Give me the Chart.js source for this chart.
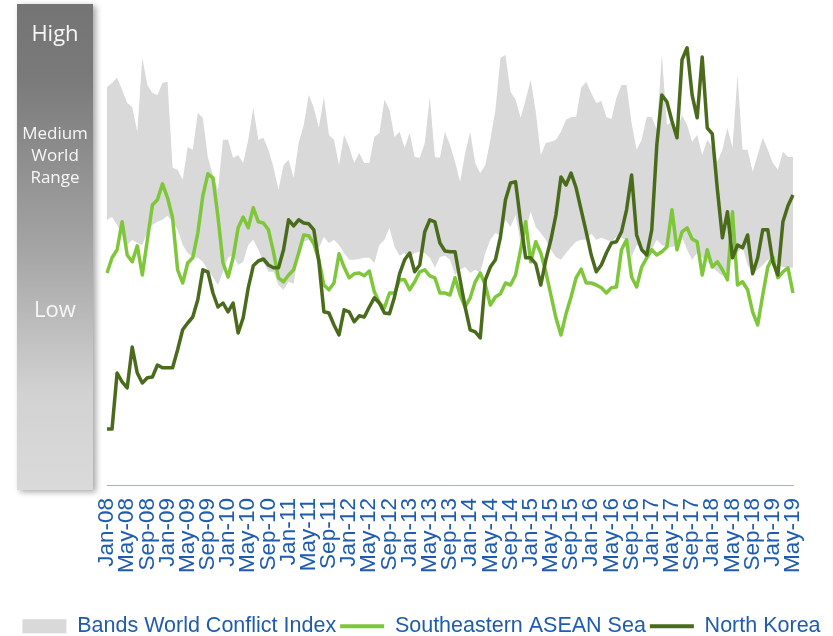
<!DOCTYPE html>
<html>
<head>
<meta charset="utf-8">
<title>World Conflict Index</title>
<script src="https://cdn.jsdelivr.net/npm/chart.js@4.4.1/dist/chart.umd.min.js"></script>
<style>
  html, body { margin: 0; padding: 0; background: #fff; }
  #wrap { width: 833px; height: 636px; }
</style>
</head>
<body>
<div id="wrap"><canvas id="conflict-chart" width="833" height="636"></canvas></div>
<script>
const MONTH_NAMES = ['Jan', 'Feb', 'Mar', 'Apr', 'May', 'Jun', 'Jul', 'Aug', 'Sep', 'Oct', 'Nov', 'Dec'];
const FIRST_YEAR = 8;      // 2008
const MONTH_COUNT = 137;   // Jan-08 .. May-19
const LABEL_EVERY = 4;

const SIDE_LABELS = ['High', 'Medium', 'World', 'Range', 'Low'];

// upper and lower edge of the grey world range band
const BAND_HIGH = [
  99.5, 100.5, 101.8, 98.8, 95.5, 94.5, 88.3, 106.8, 100, 98,
  97.5, 100.5, 100.8, 79.3, 78.8, 76.3, 84.5, 83.8, 93, 91.8,
  81.8, 77.5, 73.8, 86.3, 86.3, 81.8, 82.5, 80.5, 86.3, 94.3,
  86.3, 86.8, 83.8, 79.5, 73.8, 80, 81.3, 76.8, 85.5, 90,
  97.5, 94.3, 89.3, 97, 87.5, 86.3, 80, 87.5, 84.5, 80.5,
  83, 80.5, 80.5, 87, 88, 96.3, 93.8, 87, 88.3, 84.3,
  88, 82, 81.8, 85.5, 97, 82, 81.8, 88.3, 85, 80.8,
  75.8, 83, 88.3, 80.5, 78, 80, 86.3, 93.8, 106.8, 107.5,
  98.3, 96.3, 91.8, 96.3, 101.3, 93.3, 82.5, 85.5, 85.8, 86.3,
  88.3, 91.3, 92, 92, 99.3, 100.8, 98, 95.5, 96, 92,
  91.5, 96.8, 100, 100, 90.5, 83.8, 86.3, 92, 92, 88.8,
  107.5, 90, 90.8, 88.8, 92.5, 90, 85.8, 87.5, 82.5, 86.3,
  84.5, 80.8, 83.8, 89.3, 84.3, 102.5, 83.8, 83.8, 78.3, 82.5,
  86.8, 83.8, 80.5, 78.8, 83.3, 82, 82
];
const BAND_LOW = [
  66.3, 67, 65, 62.5, 60, 61.3, 60.5, 60, 63.3, 65,
  65.8, 66.3, 67.3, 65.8, 63.8, 60, 58, 57, 56.8, 55.8,
  53.8, 52, 50, 53.3, 56.8, 57.5, 55, 55.8, 60, 61.3,
  58.8, 55.8, 53.3, 53.3, 50, 48.8, 50.8, 50.3, 58.8, 60.8,
  61.3, 61.3, 59.3, 62, 60.5, 61.3, 60, 58, 56.3, 56.3,
  56.5, 56.8, 56.8, 55.5, 60, 61.3, 64.3, 59.5, 57.3, 58,
  56.8, 58, 58.3, 58, 56.8, 54.3, 57, 57.3, 56.3, 52.5,
  53.8, 54.5, 53, 53.8, 53, 58, 61.3, 63, 62.3, 66.3,
  64.5, 67.5, 60.5, 63.8, 68.3, 64.5, 63, 61.3, 58.8, 57,
  56.3, 58, 59.5, 60.8, 61.3, 61.3, 62.8, 61.3, 61.8, 61.3,
  60.8, 62, 61.8, 61.3, 57, 60, 59.3, 55.8, 58.8, 61.3,
  60, 59.3, 59.5, 60, 62, 58.8, 56.3, 58, 56.8, 55.8,
  54.5, 53.3, 52.3, 53.8, 57, 58, 59.5, 55, 53, 53.8,
  55, 56.3, 57, 55, 54.5, 54.5, 54.3
];
const ASEAN_SEA = [
  53, 56.8, 58.8, 65.8, 57.5, 55.8, 59.8, 52.5, 61.3, 70,
  71.3, 75.3, 71.8, 66.8, 53.8, 50.5, 55.5, 56.8, 63, 72.3,
  77.8, 76.8, 67, 55.5, 52, 56.8, 64.3, 67, 64.3, 69.3,
  65.8, 65.5, 63.8, 58.3, 51.8, 50.8, 52.5, 53.8, 58, 62.5,
  62.3, 60.3, 56.3, 50, 48.8, 50.5, 57.8, 54.5, 51.8, 52.8,
  53, 52.3, 53.5, 48.3, 45.5, 44.3, 48, 48, 51.3, 51.3,
  48.8, 50.8, 53.3, 53.8, 52.3, 51.8, 48, 48, 47.5, 51.8,
  47.5, 44.5, 46.8, 50.8, 53, 50, 45, 47, 47.8, 50.5,
  50, 52.5, 58.8, 65.8, 55.8, 60.8, 58, 53.3, 47.5, 41.8,
  37.5, 42.8, 47, 51.8, 54, 50.5, 50.5, 50, 49.3, 48,
  49.3, 49.5, 58.8, 61.3, 52, 49.5, 54.5, 56.8, 58.8, 57.5,
  58.3, 59.5, 68.8, 58.8, 63.3, 64.3, 61.5, 60.8, 52.5, 58.8,
  54.5, 55.8, 53.8, 51.3, 68.3, 50, 50.8, 48.8, 43.3, 40,
  47.5, 54.5, 57, 51.8, 53.3, 54.3, 48
];
const NORTH_KOREA = [
  14, 14, 28, 25.8, 24.3, 34.5, 28, 25.5, 26.8, 27,
  30, 29.3, 29.3, 29.3, 33.8, 38.8, 40.5, 42, 46.3, 53.8,
  53.3, 48, 44.5, 45.5, 43.3, 45.5, 38, 41.8, 49.3, 54.8,
  56, 56.5, 55, 54.3, 54.3, 58.8, 66.3, 64.8, 66.3, 65.5,
  65.3, 63.8, 55.8, 43.3, 43, 40, 37.5, 43.8, 43.3, 40.8,
  42.3, 42, 44.5, 46.8, 45.5, 43, 42.8, 47, 52.8, 56.3,
  58, 53.3, 55, 63.3, 66.3, 65.8, 60.5, 58.5, 58.3, 58.3,
  51.3, 44.5, 38.8, 38.3, 36.8, 51.3, 54.5, 56.3, 62, 71.3,
  75.5, 75.8, 65.8, 56.8, 56.8, 55.3, 50, 56.3, 61.3, 67.5,
  77, 75, 78, 74.3, 68.8, 63.3, 57.5, 53.3, 55, 58,
  60.5, 60.8, 63.3, 68.8, 77.5, 62.5, 58.8, 57.5, 63.8, 85,
  97.5, 95.8, 91, 86.8, 106.3, 109.3, 97.5, 91.8, 107, 89.3,
  87.8, 74, 61.8, 68.3, 56.8, 60, 59.3, 62.5, 52.8, 56.8,
  63.8, 63.8, 55.8, 52.5, 65.8, 69.8, 72.5
];

const BAND_COLOR = '#d9d9d9';
const ASEAN_COLOR = '#7ec63a';
const NK_COLOR = '#4a6b1b';
const TEXT_BLUE = '#1f5cad';
const AXIS_COLOR = '#a7b1cd';
const FONT_FAMILY = '"Liberation Sans", Arial, sans-serif';

let monthLabels = [];
for (let i = 0; i < MONTH_COUNT; i++) {
  let year = FIRST_YEAR + Math.floor(i / 12);
  monthLabels.push(MONTH_NAMES[i % 12] + '-' + String(year).padStart(2, '0'));
}

// grey "High / Medium / Low" scale on the left
const sideBarPlugin = {
  id: 'sideBar',
  beforeDraw(chart) {
    const ctx = chart.ctx;
    const left = 17, top = 4, width = 76, height = 486;

    ctx.save();
    let grad = ctx.createLinearGradient(0, top, 0, top + height);
    grad.addColorStop(0, '#747474');
    grad.addColorStop(0.15, '#7a7a7a');
    grad.addColorStop(0.5, '#a4a4a4');
    grad.addColorStop(0.8, '#d2d2d2');
    grad.addColorStop(1, '#dadada');
    ctx.shadowColor = 'rgba(0, 0, 0, 0.35)';
    ctx.shadowBlur = 6;
    ctx.shadowOffsetX = 3;
    ctx.shadowOffsetY = 2;
    ctx.fillStyle = grad;
    ctx.fillRect(left, top, width, height);
    ctx.restore();

    ctx.save();
    ctx.fillStyle = '#f7f7f7';
    ctx.textAlign = 'center';
    ctx.textBaseline = 'middle';
    let cx = left + width / 2;
    ctx.font = '22px "Open Sans", sans-serif';
    ctx.fillText(SIDE_LABELS[0], cx, 35);
    ctx.font = '17px "Open Sans", sans-serif';
    ctx.fillText(SIDE_LABELS[1], cx, 134);
    ctx.fillText(SIDE_LABELS[2], cx, 156);
    ctx.fillText(SIDE_LABELS[3], cx, 178);
    ctx.font = '22px "Open Sans", sans-serif';
    ctx.fillText(SIDE_LABELS[4], cx, 311);
    ctx.restore();
  }
};

function legendLabels(chart) {
  let items = Chart.defaults.plugins.legend.labels.generateLabels(chart);
  items.sort((a, b) => a.datasetIndex - b.datasetIndex);
  return items.filter(item => item.datasetIndex !== 1).map(item => {
    let ds = chart.data.datasets[item.datasetIndex];
    if (item.datasetIndex === 0) {
      item.pointStyle = 'rect';
      item.fillStyle = BAND_COLOR;
      item.strokeStyle = BAND_COLOR;
      item.lineWidth = 0;
    } else {
      item.pointStyle = 'line';
      item.strokeStyle = ds.borderColor;
      item.lineWidth = 4;
      item.lineCap = 'butt';
    }
    return item;
  });
}

const data = {
  labels: monthLabels,
  datasets: [
    {
      label: 'Bands World Conflict Index',
      data: BAND_HIGH,
      backgroundColor: BAND_COLOR,
      borderColor: 'transparent',
      borderWidth: 0,
      pointRadius: 0,
      fill: '+1',
      order: 2,
    },
    {
      label: 'band low',
      data: BAND_LOW,
      backgroundColor: 'transparent',
      borderColor: 'transparent',
      borderWidth: 0,
      pointRadius: 0,
      fill: false,
      order: 2,
    },
    {
      label: 'Southeastern ASEAN Sea',
      data: ASEAN_SEA,
      borderColor: ASEAN_COLOR,
      backgroundColor: ASEAN_COLOR,
      borderWidth: 3.5,
      borderJoinStyle: 'round',
      pointRadius: 0,
      fill: false,
      order: 1,
    },
    {
      label: 'North Korea',
      data: NORTH_KOREA,
      borderColor: NK_COLOR,
      backgroundColor: NK_COLOR,
      borderWidth: 3.5,
      borderJoinStyle: 'round',
      pointRadius: 0,
      fill: false,
      order: 0,
    },
  ],
};

const config = {
  type: 'line',
  data: data,
  plugins: [sideBarPlugin],
  options: {
    responsive: false,
    animation: false,
    devicePixelRatio: 1,
    layout: { padding: { top: 5, left: 10, right: 0, bottom: -11 } },
    plugins: {
      tooltip: { enabled: false },
      legend: {
        position: 'bottom',
        labels: {
          usePointStyle: true,
          pointStyleWidth: 44,
          boxHeight: 14,
          padding: 4,
          color: TEXT_BLUE,
          font: { family: FONT_FAMILY, size: 21.5 },
          generateLabels: legendLabels,
        },
      },
    },
    scales: {
      x: {
        grid: { display: false, drawTicks: false },
        border: { display: true, color: AXIS_COLOR, width: 1 },
        ticks: {
          autoSkip: false,
          minRotation: 90,
          maxRotation: 90,
          padding: 13,
          color: TEXT_BLUE,
          font: { family: FONT_FAMILY, size: 22.5 },
          callback: (value, index) => index % LABEL_EVERY === 0 ? monthLabels[index] : '',
        },
        afterFit: (scale) => { scale.height = 126.5; },
      },
      y: {
        min: 0,
        max: 120,
        grid: { display: false, drawTicks: false },
        border: { display: false },
        ticks: { display: false },
        afterFit: (scale) => { scale.width = 97; },
      },
      yRight: {
        type: 'linear',
        position: 'right',
        grid: { display: false, drawTicks: false },
        border: { display: false },
        ticks: { display: false },
        afterFit: (scale) => { scale.width = 38; },
      },
    },
  },
};

const canvas = document.getElementById('conflict-chart');
const conflictChart = new Chart(canvas, config);
</script>
</body>
</html>
